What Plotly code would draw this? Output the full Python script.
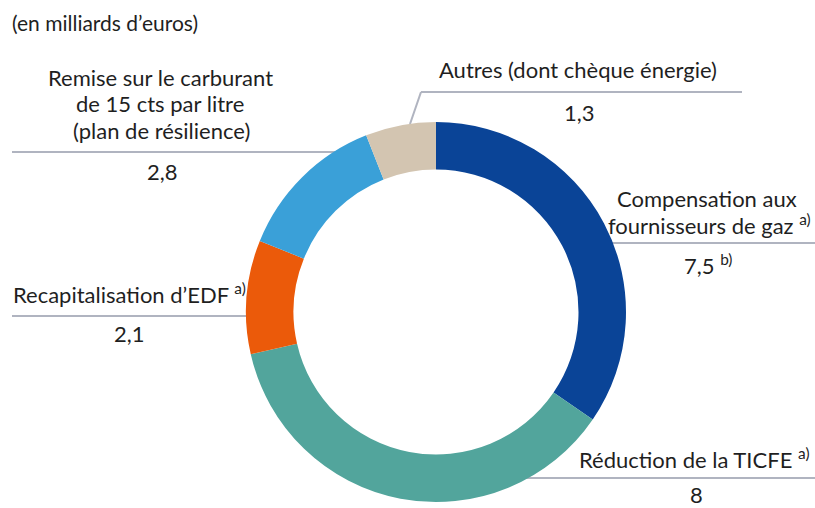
import plotly.graph_objects as go

categories = [
    "Compensation aux fournisseurs de gaz",
    "Réduction de la TICFE",
    "Recapitalisation d'EDF",
    "Remise sur le carburant de 15 cts par litre (plan de résilience)",
    "Autres (dont chèque énergie)",
]
values = [7.5, 8, 2.1, 2.8, 1.3]
value_labels = ["7,5", "8", "2,1", "2,8", "1,3"]
colors = ["#0a4497", "#52a59c", "#eb5a0a", "#3aa0d8", "#d3c5b1"]

W, H = 815, 508
FONT = "Lato"
TXT = "#1f1f1f"
LINE = "#b0b4c0"
FS = 22

def px(x):
    return x / W

def py(y):
    return 1 - y / H

fig = go.Figure(go.Pie(
    labels=categories, values=values, hole=0.75, sort=False,
    direction="clockwise", rotation=0, textinfo="none",
    marker=dict(colors=colors, line=dict(width=0)),
    domain=dict(x=[px(246), px(626)], y=[py(502), py(122)]),
    showlegend=False, hoverinfo="label+value",
))

annotations = []

def ann(x, y, text, xanchor="center", size=FS):
    annotations.append(dict(
        x=px(x), y=py(y), xref="paper", yref="paper", text=text,
        showarrow=False, xanchor=xanchor, yanchor="middle",
        font=dict(family=FONT, size=size, color=TXT), align="center",
    ))

SUP = "<sup>a)</sup>"

ann(10, 22, "(en milliards d’euros)", xanchor="left", size=21)

ann(160, 78, "Remise sur le carburant")
ann(160, 104, "de 15 cts par litre")
ann(161, 130, "(plan de résilience)")
ann(162, 171, value_labels[3])

ann(578, 70, "Autres (dont chèque énergie)")
ann(579, 112, value_labels[4])

ann(707, 198, "Compensation aux")
ann(709, 224, "fournisseurs de gaz " + SUP)
ann(708, 264, value_labels[0] + " <sup>b)</sup>")

ann(129, 293, "Recapitalisation d’EDF " + SUP)
ann(129, 333, value_labels[2])

ann(694, 458, "Réduction de la TICFE " + SUP)
ann(696, 494, value_labels[1])

shapes = []

def seg(x0, y0, x1, y1):
    shapes.append(dict(type="line", xref="paper", yref="paper",
                       x0=px(x0), y0=py(y0), x1=px(x1), y1=py(y1),
                       line=dict(color=LINE, width=2), layer="below"))

seg(12, 152, 338, 152)
seg(410, 124, 421, 92)
seg(421, 92, 742, 92)
seg(610, 243, 815, 243)
seg(12, 316, 250, 316)
seg(524, 478, 815, 478)

fig.update_layout(
    width=W, height=H, margin=dict(l=0, r=0, t=0, b=0),
    paper_bgcolor="white", plot_bgcolor="white",
    annotations=annotations, shapes=shapes,
)

fig.write_html("out.html", config={"displayModeBar": False},
               post_script="document.body.style.margin='0';")
